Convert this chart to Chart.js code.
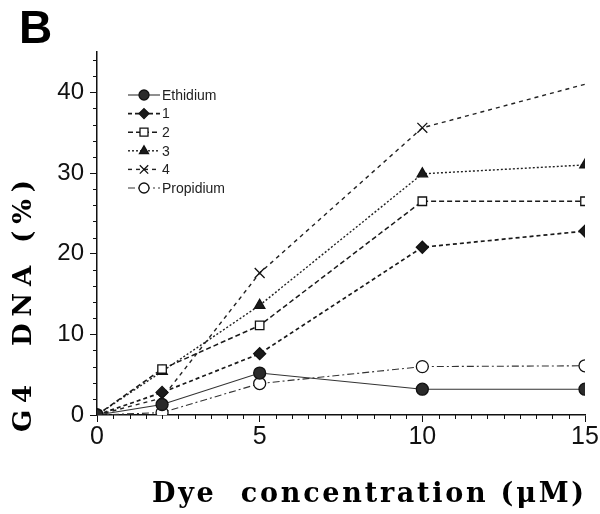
<!DOCTYPE html>
<html><head><meta charset="utf-8">
<script src="https://cdn.jsdelivr.net/npm/chart.js@4/dist/chart.umd.min.js"></script>
<style>html,body{margin:0;padding:0;background:#fff}#wrap{width:600px;height:514px}</style>
</head><body><div id="wrap"><canvas id="c" width="600" height="514"></canvas></div>
<script>
const concentrations = [0, 2, 5, 10, 15];
const ethidium = [0, 1.3, 5.2, 3.2, 3.2];
const dye1 = [0, 2.8, 7.6, 20.8, 22.8];
const dye2 = [0, 5.7, 11.1, 26.5, 26.5];
const dye3 = [0, 5.4, 13.6, 29.9, 31.0];
const dye4 = [0, 2.1, 17.6, 35.6, 41.0];
const propidium = [0, 0.3, 3.9, 6.0, 6.1];
const seriesNames = ['Ethidium', '1', '2', '3', '4', 'Propidium'];
const xTickLabels = ['0', '5', '10', '15'];
const yTickLabels = ['0', '10', '20', '30', '40'];
const panelLabel = 'B';
const xTitle = 'Dye  concentration (μM)';
const yTitle = 'G4  DNA (%)';

const ink = '#1a1a1a';
function pts(arr){ return concentrations.map((x,i)=>({x:x,y:arr[i]})); }

const styles = [
  {data:ethidium, dash:[], width:1.1, pointStyle:'circle', radius:6, fill:'#2a2a2a', color:'#333'},
  {data:dye1, dash:[4,3], width:1.7, pointStyle:'rectRot', radius:6, fill:ink, color:'#1a1a1a'},
  {data:dye2, dash:[5,3], width:1.5, pointStyle:'rect', radius:6, fill:'#fff', color:'#1a1a1a'},
  {data:dye3, dash:[2,2], width:1.4, pointStyle:'triangle', radius:6, fill:ink, color:'#222'},
  {data:dye4, dash:[4,4], width:1.4, pointStyle:'crossRot', radius:7, fill:ink, color:'#222', lastHidden:true},
  {data:propidium, dash:[7,3,2,3], width:1.1, pointStyle:'circle', radius:6, fill:'#fff', color:'#333'}
];

const datasets = styles.map((s,i)=>({
  label: seriesNames[i],
  data: pts(s.data),
  borderColor: s.color,
  borderWidth: s.width,
  borderDash: s.dash,
  pointStyle: s.pointStyle,
  pointRadius: s.lastHidden ? s.data.map((v,j)=> j===s.data.length-1 ? 0 : s.radius) : s.radius,
  pointBackgroundColor: s.fill,
  pointBorderColor: '#111',
  pointBorderWidth: 1.3,
  tension: 0,
  fill: false
}));

function drawMarker(ctx, style, r, x, y, fill){
  ctx.save();
  ctx.setLineDash([]);
  ctx.fillStyle = fill; ctx.strokeStyle = '#111'; ctx.lineWidth = 1.3;
  ctx.beginPath();
  if(style==='circle'){ ctx.arc(x,y,r,0,Math.PI*2); ctx.fill(); ctx.stroke(); }
  else if(style==='rect'){ const s=r*0.8; ctx.rect(x-s,y-s,2*s,2*s); ctx.fill(); ctx.stroke(); }
  else if(style==='rectRot'){ ctx.moveTo(x,y-r); ctx.lineTo(x+r,y); ctx.lineTo(x,y+r); ctx.lineTo(x-r,y); ctx.closePath(); ctx.fill(); ctx.stroke(); }
  else if(style==='triangle'){ ctx.moveTo(x,y-r); ctx.lineTo(x+r*0.9,y+r*0.55); ctx.lineTo(x-r*0.9,y+r*0.55); ctx.closePath(); ctx.fill(); ctx.stroke(); }
  else if(style==='crossRot'){ const s=r*0.7; ctx.moveTo(x-s,y-s); ctx.lineTo(x+s,y+s); ctx.moveTo(x+s,y-s); ctx.lineTo(x-s,y+s); ctx.stroke(); }
  ctx.restore();
}

const decor = {
  id:'decor',
  afterDraw(chart){
    const ctx = chart.ctx;
    const xs = chart.scales.x, ys = chart.scales.y;
    ctx.save();
    // minor ticks
    ctx.strokeStyle = '#111'; ctx.lineWidth = 1;
    for(let v=0; v<=15.001; v+=0.5){
      if(Math.abs(v%5)<1e-6) continue;
      const px = Math.round(xs.getPixelForValue(v))+0.5;
      ctx.beginPath(); ctx.moveTo(px, ys.bottom); ctx.lineTo(px, ys.bottom+4); ctx.stroke();
    }
    for(let v=0; v<=44.001; v+=2){
      if(Math.abs(v%10)<1e-6) continue;
      const py = Math.round(ys.getPixelForValue(v))+0.5;
      ctx.beginPath(); ctx.moveTo(xs.left-4, py); ctx.lineTo(xs.left, py); ctx.stroke();
    }
    // legend
    const lx0 = 128, lx1 = 160, ly0 = 95, dy = 18.6;
    ctx.font = '14px "Liberation Sans", Arial, sans-serif';
    ctx.textBaseline = 'middle'; ctx.textAlign = 'left';
    styles.forEach((s,i)=>{
      const y = ly0 + i*dy;
      ctx.save();
      ctx.strokeStyle = s.color; ctx.lineWidth = s.width; ctx.setLineDash(s.dash);
      ctx.beginPath(); ctx.moveTo(lx0,y); ctx.lineTo(lx1,y); ctx.stroke();
      ctx.restore();
      drawMarker(ctx, s.pointStyle, s.pointStyle==='crossRot'?6:5, 144, y, s.fill);
      ctx.fillStyle = '#222';
      ctx.fillText(seriesNames[i], 162, y+1);
    });
    // panel label
    ctx.fillStyle = '#000';
    ctx.font = 'bold 46px "Liberation Sans", Arial, sans-serif';
    ctx.textAlign = 'left'; ctx.textBaseline = 'alphabetic';
    ctx.fillText(panelLabel, 19, 43);
    // x title
    ctx.font = 'bold 27px "DejaVu Serif", "Liberation Serif", serif';
    ctx.textAlign = 'left'; ctx.textBaseline = 'middle';
    ctx.letterSpacing = '0px';
    let w = ctx.measureText(xTitle).width;
    let ls = Math.max(0, (432 - w) / (xTitle.length - 1));
    ctx.letterSpacing = ls.toFixed(2)+'px';
    ctx.fillText(xTitle, 152, 495);
    // y title
    ctx.save();
    ctx.font = 'bold 26px "DejaVu Serif", "Liberation Serif", serif';
    ctx.translate(24, 432);
    ctx.rotate(-Math.PI/2);
    ctx.letterSpacing = '0px';
    w = ctx.measureText(yTitle).width;
    ls = Math.max(0, (252 - w) / (yTitle.length - 1));
    ctx.letterSpacing = ls.toFixed(2)+'px';
    ctx.fillText(yTitle, 0, 0);
    ctx.restore();
    ctx.restore();
  }
};

new Chart(document.getElementById('c'), {
  type: 'line',
  data: { datasets },
  options: {
    responsive: false,
    animation: false,
    layout: { padding: { left: 0, right: 15, top: 52, bottom: 0 } },
    plugins: { legend: { display: false }, tooltip: { enabled: false } },
    scales: {
      x: {
        type: 'linear', min: 0, max: 15,
        afterBuildTicks: s => { s.ticks = xTickLabels.map(t => ({value: Number(t)})); },
        afterFit: s => { s.height = 99; },
        grid: { drawOnChartArea: false, drawTicks: true, tickLength: 7, color: '#111' },
        border: { color: '#111', width: 1.5 },
        ticks: { color: '#111', padding: 0, maxRotation: 0, autoSkip: false,
                 font: { family: '"Liberation Sans", Arial, sans-serif', size: 25 },
                 callback: v => String(v) }
      },
      y: {
        type: 'linear', min: 0, max: 45,
        afterBuildTicks: s => { s.ticks = yTickLabels.map(t => ({value: Number(t)})); },
        afterFit: s => { s.width = 97; },
        grid: { drawOnChartArea: false, drawTicks: true, tickLength: 7, color: '#111' },
        border: { color: '#111', width: 1.5 },
        ticks: { color: '#111', padding: 6, autoSkip: false,
                 font: { family: '"Liberation Sans", Arial, sans-serif', size: 24 },
                 callback: v => String(v) }
      }
    }
  },
  plugins: [decor]
});
</script></body></html>
